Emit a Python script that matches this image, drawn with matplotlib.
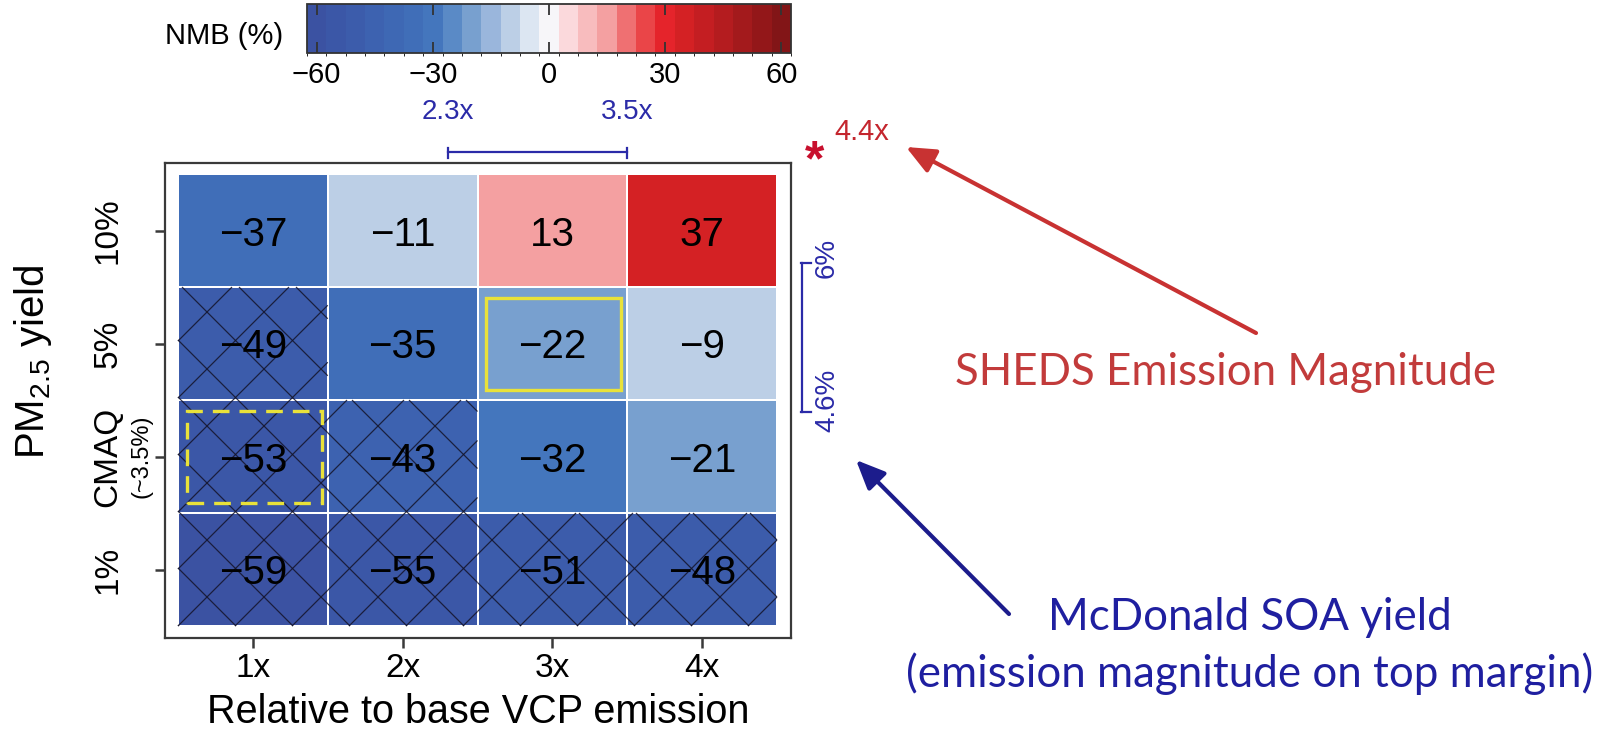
import numpy as np
import matplotlib
matplotlib.use("Agg")
import matplotlib.pyplot as plt
import matplotlib.transforms as mtransforms
from matplotlib.colors import ListedColormap, BoundaryNorm
from matplotlib.patches import Rectangle, FancyArrowPatch
from matplotlib.collections import LineCollection
from matplotlib.lines import Line2D

plt.rcParams["font.family"] = ["Liberation Sans", "DejaVu Sans"]
plt.rcParams["mathtext.default"] = "regular"

# ---- data -------------------------------------------------------------
emission_labels = ["1x", "2x", "3x", "4x"]
emission_factor = [1, 2, 3, 4]
yield_labels = ["10%", "5%", "CMAQ", "1%"]          # top to bottom
nmb = [
    [-37, -11, 13, 37],
    [-49, -35, -22, -9],
    [-53, -43, -32, -21],
    [-59, -55, -51, -48],
]
hatched = [
    [0, 0, 0, 0],
    [1, 0, 0, 0],
    [1, 1, 0, 0],
    [1, 1, 1, 1],
]
solid_box = ("3x", "5%")
dashed_box = ("1x", "CMAQ")
mcdonald_emission = [2.3, 3.5]
mcdonald_yield_labels = ["4.6%", "6%"]
sheds_label = "4.4x"
cbar_ticks = [-60, -30, 0, 30, 60]
bin_edges = np.arange(-62.5, 63, 5)
bin_colors = [
    "#3b52a2", "#3b57a7", "#3c5cab", "#3d62b0", "#3e68b4", "#406eb8", "#4476bd",
    "#5a8ac6", "#78a0cf", "#9ab6dc", "#bccfe6", "#dce6f2", "#f7f6f9",
    "#fbd9dc", "#f8bcbe", "#f4a0a1", "#ef7072", "#ea4548", "#e5242b",
    "#d42124", "#c41e22", "#b41c1f", "#a31a1c", "#931719", "#821517",
]

# ---- figure -----------------------------------------------------------
W, H = 1614, 742
fig = plt.figure(figsize=(W / 100, H / 100), dpi=100)


def fx(px):
    return px / W


def fy(py):
    return 1 - py / H


# pixel coordinates measured from the top-left corner
pix = mtransforms.Affine2D().scale(1 / W, -1 / H).translate(0, 1) + fig.transFigure

ax = fig.add_axes([fx(165), fy(638), (791 - 165) / W, (638 - 163) / H])
ax.set_xlim(0.5 - 13 / 149.75, 4.5 + 14 / 149.75)
ax.set_ylim(-0.5 - 12 / 113, 3.5 + 11 / 113)

n_rows = len(yield_labels)
row_y = {lab: n_rows - 1 - i for i, lab in enumerate(yield_labels)}
col_x = dict(zip(emission_labels, emission_factor))

values = np.array(nmb)[::-1]
x_edges = np.arange(0.5, len(emission_factor) + 1, 1.0)
y_edges = np.arange(-0.5, n_rows, 1.0)
cmap = ListedColormap(bin_colors)
norm = BoundaryNorm(bin_edges, cmap.N)
mesh = ax.pcolormesh(x_edges, y_edges, values, cmap=cmap, norm=norm,
                     edgecolors="white", linewidth=1.2, zorder=1)


def cell_pixels(xc, yc):
    """Cell corners in top-left pixel coordinates."""
    (ax0, ay0), (ax1, ay1) = ax.transData.transform([(xc - 0.5, yc - 0.5),
                                                     (xc + 0.5, yc + 0.5)])
    s = fig.dpi / 100
    return ax0 / s, ax1 / s, H - ay1 / s, H - ay0 / s


def diagonal_hatch(px0, px1, py0, py1, step=57, c_a=333, c_b=747):
    segs = []
    for k in range(-40, 40):
        c = c_a + step * k          # y = x + c
        xa, xb = max(px0, py0 - c), min(px1, py1 - c)
        if xb > xa:
            segs.append([(xa, xa + c), (xb, xb + c)])
        c = c_b + step * k          # y = -x + c
        xa, xb = max(px0, c - py1), min(px1, c - py0)
        if xb > xa:
            segs.append([(xa, c - xa), (xb, c - xb)])
    return segs


for i, ylab in enumerate(yield_labels):
    for j, xlab in enumerate(emission_labels):
        if hatched[i][j]:
            px0, px1, py0, py1 = cell_pixels(col_x[xlab], row_y[ylab])
            lc = LineCollection(diagonal_hatch(px0, px1, py0, py1),
                                colors="#14142a", linewidths=0.9, alpha=0.85,
                                transform=pix, zorder=2)
            ax.add_collection(lc, autolim=False)

# cell values
for i, ylab in enumerate(yield_labels):
    for j, xlab in enumerate(emission_labels):
        v = nmb[i][j]
        ax.text(col_x[xlab], row_y[ylab], f"{v:d}".replace("-", "\u2212"),
                ha="center", va="center_baseline", fontsize=29, color="black",
                zorder=4)

# highlighted cells
yellow = "#e9e23a"
for (xlab, ylab), ls in ((solid_box, "-"), (dashed_box, (0, (5, 3)))):
    xc, yc = col_x[xlab], row_y[ylab]
    ax.add_patch(Rectangle((xc - 0.5 + 0.06, yc - 0.5 + 0.09), 0.90, 0.81,
                           fill=False, edgecolor=yellow, linewidth=2.4,
                           linestyle=ls, zorder=3))

ax.set_xticks(emission_factor)
ax.set_xticklabels(emission_labels)
ax.set_yticks([row_y[l] for l in yield_labels])
ax.set_yticklabels(yield_labels, rotation=90, ha="center", va="center")
frame = "#3a3a3a"
for s in ax.spines.values():
    s.set_color(frame)
    s.set_linewidth(1.6)
ax.tick_params(axis="both", length=7, width=1.8, color=frame, labelsize=24)
ax.tick_params(axis="x", pad=4)
ax.tick_params(axis="y", pad=34)

ax.set_xlabel("Relative to base VCP emission", fontsize=28.5)
ax.xaxis.label.set_va("baseline")
ax.xaxis.set_label_coords(0.5, (638 - 723) / 475)
ax.set_ylabel("PM$_{2.5}$ yield", fontsize=29)
ax.yaxis.label.set_va("center")
ax.yaxis.set_label_coords((33 - 165) / 626, (638 - 362) / 475)

yblend = mtransforms.blended_transform_factory(fig.transFigure, ax.transData)
ax.text(fx(142), row_y["CMAQ"], "(~3.5%)", transform=yblend, rotation=90,
        ha="center", va="center", fontsize=17, clip_on=False)

# ---- colour bar -------------------------------------------------------
cax = fig.add_axes([fx(307), fy(53), (791 - 307) / W, (53 - 4) / H])
cb = fig.colorbar(mesh, cax=cax, orientation="horizontal", ticks=cbar_ticks)
cb.outline.set_edgecolor("#333333")
cb.outline.set_linewidth(1.3)
cax.tick_params(direction="in", length=8, width=1.3, color="#333333",
                top=True, bottom=True, labelsize=21, pad=6)
fig.text(fx(283), fy(33), "NMB (%)", ha="right", va="center_baseline", fontsize=21)

# ---- McDonald ranges (blue) ------------------------------------------
blue = "#2b2ba8"
xblend = mtransforms.blended_transform_factory(ax.transData, fig.transFigure)
x0, x1 = mcdonald_emission
ax.plot([x0, x1], [fy(152), fy(152)], color=blue, lw=1.6, transform=xblend, clip_on=False)
for xv in mcdonald_emission:
    ax.plot([xv, xv], [fy(148), fy(158)], color=blue, lw=1.6, transform=xblend, clip_on=False)
    ax.text(xv, fy(112), f"{xv:.1f}x", transform=xblend, ha="center", va="center",
            fontsize=20, color=blue, clip_on=False)

fig.add_artist(Line2D([fx(802), fx(802)], [fy(263), fy(412)], color=blue, lw=1.6,
                      transform=fig.transFigure))
for py in (263, 412):
    fig.add_artist(Line2D([fx(801), fx(811)], [fy(py), fy(py)], color=blue, lw=1.6,
                          transform=fig.transFigure))
fig.text(fx(827), fy(400), mcdonald_yield_labels[0], rotation=90, ha="center",
         va="center", fontsize=20, color=blue)
fig.text(fx(827), fy(258), mcdonald_yield_labels[1], rotation=90, ha="center",
         va="center", fontsize=20, color=blue)

# ---- SHEDS magnitude (red) -------------------------------------------
red = "#c4262e"
fig.text(fx(815), fy(175), "*", ha="center", va="baseline", fontsize=36,
         fontweight="bold", color="#c8102e")
fig.text(fx(862), fy(132), sheds_label, ha="center", va="center", fontsize=21, color=red)

# ---- call-out notes ---------------------------------------------------
note_font = ["Lato", "DejaVu Sans"]
t_red = fig.text(fx(1226), fy(385), "SHEDS Emission Magnitude", ha="center",
                 va="baseline", fontsize=30, family=note_font, color="#c23b3b")
t_b1 = fig.text(fx(1250), fy(630), "McDonald SOA yield", ha="center",
                va="baseline", fontsize=30, family=note_font, color="#1f1fa0")
t_b2 = fig.text(fx(1250), fy(687), "(emission magnitude on top margin)", ha="center",
                va="baseline", fontsize=30, family=note_font, color="#1f1fa0")
renderer = fig.canvas.get_renderer()
w = t_red.get_window_extent(renderer).width
size = 30 * 540 / w
for t in (t_red, t_b1, t_b2):
    t.set_fontsize(size)

arrow_style = "-|>,head_length=0.8,head_width=0.35"
fig.add_artist(FancyArrowPatch((fx(1256), fy(333)), (fx(906), fy(147)),
                               transform=fig.transFigure, arrowstyle=arrow_style,
                               mutation_scale=22, lw=3, color="#c83232",
                               shrinkA=0, shrinkB=0))
fig.add_artist(FancyArrowPatch((fx(1009), fy(614)), (fx(856), fy(460)),
                               transform=fig.transFigure, arrowstyle=arrow_style,
                               mutation_scale=22, lw=3, color="#1c1c8c",
                               shrinkA=0, shrinkB=0))

fig.savefig("out.png", dpi=100, facecolor="white")
